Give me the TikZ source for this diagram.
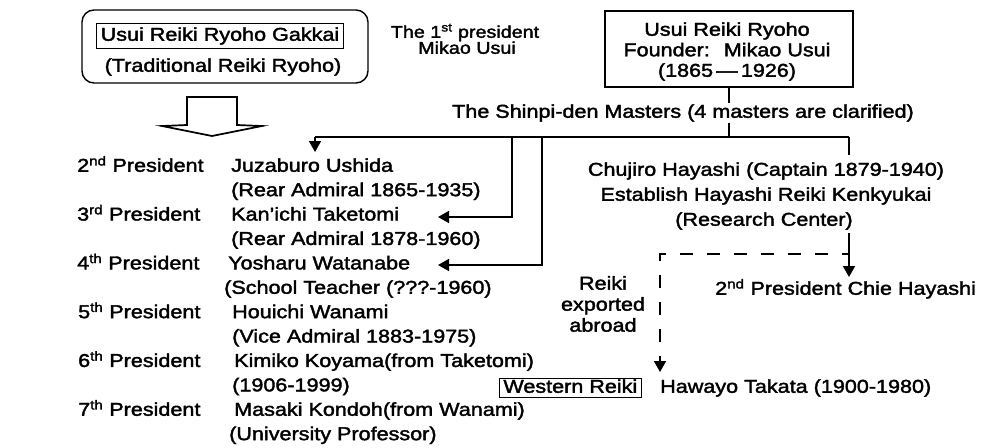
\documentclass[tikz,border=0pt]{standalone}
\usepackage{fontspec}
\setmainfont{Liberation Sans}[FakeStretch=1.16,FakeBold=2]
\usetikzlibrary{arrows.meta}
\begin{document}
\begin{tikzpicture}[x=1pt,y=-1pt,
  txt/.style={font=\fontsize{18.6}{22}\selectfont, inner sep=0pt, text height=13.5pt, text depth=4pt},
  mtxt/.style={font=\fontsize{18.6}{21}\selectfont, inner sep=0pt, align=center},
  lft/.style={txt, anchor=west},
  ln/.style={line width=1.7pt},
  tip/.style={-{Triangle[length=11pt,width=12pt]}},
  arr/.style={ln, tip},
  dsh/.style={ln, tip, dash pattern=on 13pt off 14pt, dash phase=6pt},
  framebox/.style={draw, line width=1.4pt}]
\useasboundingbox (0,0) rectangle (982,447);

% ---- top left group
\node[framebox, rounded corners=12pt, minimum width=286pt, minimum height=73pt, inner sep=0pt] (outer) at (225,46.5) {};
\node[txt, framebox, inner xsep=4pt, inner ysep=3.5pt] (gakkai) at (220,36) {Usui Reiki Ryoho Gakkai};
\node[txt] (trad) at (223,67) {(Traditional Reiki Ryoho)};
\draw[line width=1.7pt, line join=miter] (187,97) -- (237,97) -- (237,125) -- (262,126) -- (212,136) -- (162,126) -- (187,125) -- cycle;

\node[txt, font=\fontsize{17}{20}\selectfont] (first1) at (465,33) {The 1\textsuperscript{st} president};
\node[txt, font=\fontsize{17}{20}\selectfont] (first2) at (467,49) {Mikao Usui};

% ---- founder
\node[framebox, minimum width=248pt, minimum height=76pt, inner sep=0pt] (founder) at (729,49) {};
\node[txt] (f1) at (727,31) {Usui Reiki Ryoho};
\node[txt] (f2) at (727,51.5) {Founder:~ Mikao Usui};
\node[txt] (f3) at (727,72) {(1865\,—\,1926)};

\node[txt, inner ysep=1.5pt] (shinpi) at (683,113) {The Shinpi-den Masters (4 masters are clarified)};
\draw[ln] (founder.south) -- (founder.south |- shinpi.north);

\coordinate (hj) at (729,137);
\coordinate (jL) at (315,137);
\coordinate (jR) at (849,137);
\coordinate (jT) at (512,137);
\coordinate (jW) at (542,137);
\draw[ln] (shinpi.south -| founder.south) -- (hj);
\draw[ln] (jL) -- (jR);

% ---- left list
\node[lft] (p2) at (77,167) {2\textsuperscript{nd} President};
\node[lft] (ushida) at (231,167) {Juzaburo Ushida};
\node[lft] (ushida2) at (231,191.4) {(Rear Admiral 1865-1935)};
\node[lft] (p3) at (77,215.8) {3\textsuperscript{rd} President};
\node[lft] (taketomi) at (231,215.8) {Kan’ichi Taketomi};
\node[lft] (taketomi2) at (231,240.2) {(Rear Admiral 1878-1960)};
\node[lft] (p4) at (77,264.6) {4\textsuperscript{th} President};
\node[lft] (watanabe) at (228,264.6) {Yosharu Watanabe};
\node[lft] (watanabe2) at (224,289) {(School Teacher (???-1960)};
\node[lft] (p5) at (78,313.4) {5\textsuperscript{th} President};
\node[lft] (wanami) at (232,313.4) {Houichi Wanami};
\node[lft] (wanami2) at (232,337.8) {(Vice Admiral 1883-1975)};
\node[lft] (p6) at (78,362.2) {6\textsuperscript{th} President};
\node[lft] (koyama) at (234,362.2) {Kimiko Koyama(from Taketomi)};
\node[lft] (koyama2) at (232,386.6) {(1906-1999)};
\node[lft] (p7) at (78,411) {7\textsuperscript{th} President};
\node[lft] (kondoh) at (234,411) {Masaki Kondoh(from Wanami)};
\node[lft] (kondoh2) at (229,435.4) {(University Professor)};

\coordinate (uTip) at (315,152);
\coordinate (tTip) at (438,217);
\coordinate (wTip) at (438,265);
\draw[arr] (jL) -- (uTip);
\draw[arr] (jT) |- (tTip);
\draw[arr] (jW) |- (wTip);

% ---- Hayashi branch
\node[txt] (chujiro) at (766,171) {Chujiro Hayashi (Captain 1879-1940)};
\node[txt] (kenkyu) at (766,196) {Establish Hayashi Reiki Kenkyukai};
\node[txt] (center) at (764,221) {(Research Center)};
\coordinate (hTop) at (849,155);
\draw[ln] (jR) -- (hTop);

\coordinate (hB) at (849,233);
\coordinate (chieTip) at (849,277);
\coordinate (dStart) at (849,254);
\coordinate (westTip) at (660,372);
\draw[arr] (hB) -- (chieTip);
\draw[dsh] (dStart) -| (westTip);

\node[lft] (chie) at (715,290) {2\textsuperscript{nd} President Chie Hayashi};
\node[mtxt] (export) at (603,304) {Reiki\\exported\\abroad};

\node[txt, framebox, inner xsep=4pt, inner ysep=1pt, anchor=east] (western) at (642,388) {Western Reiki};
\node[lft] (takata) at (660,388) {Hawayo Takata (1900-1980)};
\end{tikzpicture}
\end{document}
